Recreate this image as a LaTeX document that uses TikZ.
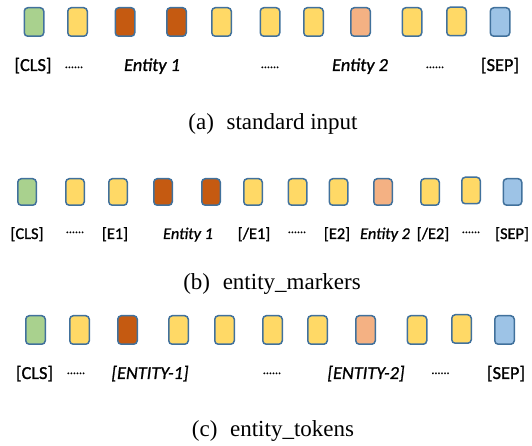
\documentclass[tikz,border=0pt]{standalone}
\usepackage{fontspec}
\setmainfont{Liberation Serif}
\newfontfamily\lblfont{Carlito}[FakeBold=1.2, ItalicFeatures={FakeBold=1.0}]
\definecolor{cG}{HTML}{A9D18E}
\definecolor{cY}{HTML}{FFD966}
\definecolor{cO}{HTML}{C55A11}
\definecolor{cL}{HTML}{F4B183}
\definecolor{cB}{HTML}{9DC3E6}
\definecolor{cEdge}{HTML}{41719C}
\begin{document}
\begin{tikzpicture}[x=1pt,y=1pt,
  tokbig/.style={draw=cEdge, line width=1.5pt, rounded corners=3.5pt, minimum width=19.5pt, minimum height=28.5pt, inner sep=0pt},
  toksmall/.style={draw=cEdge, line width=1.5pt, rounded corners=3.5pt, minimum width=18.5pt, minimum height=26.5pt, inner sep=0pt},
  lblA/.style={anchor=base, inner sep=0pt, font=\lblfont\fontsize{18.3}{20}\selectfont},
  lblB/.style={anchor=base, inner sep=0pt, font=\lblfont\fontsize{16.3}{18}\selectfont},
  dotsty/.style={anchor=base, inner sep=0pt, font=\lblfont\fontsize{12}{14}\selectfont},
  capsty/.style={anchor=base, inner sep=0pt, font=\fontsize{23}{26}\selectfont}]
\useasboundingbox (0,0) rectangle (532,446);

% ---------- (a) standard input ----------
\foreach \x/\yy/\c [count=\i] in {34/424/cG, 77.5/424/cY, 125/424/cO, 176.5/424/cO, 221.5/424/cY, 270/424/cY, 313.5/424/cY, 360.5/424/cL, 412/424/cY, 456.5/424.5/cY, 500/424/cB}
  \node[tokbig, fill=\c] (a\i) at (\x,\yy) {};
\node[lblA] (aCLS) at (33,375) {[CLS]};
\node[dotsty] (aD1) at (74,378) {......};
\node[lblA] (aE1) at (152,375) {\itshape Entity 1};
\node[dotsty] (aD2) at (270,378) {......};
\node[lblA] (aE2) at (360,375) {\itshape Entity 2};
\node[dotsty] (aD3) at (435,378) {......};
\node[lblA] (aSEP) at (500,375) {[SEP]};
\node[capsty] (capA) at (273,316) {(a)\hspace{0.55em}standard input};

% ---------- (b) entity_markers ----------
\foreach \x/\yy/\c [count=\i] in {27/254/cG, 75/254/cY, 118/254/cY, 163/254/cO, 211/254/cO, 253/254/cY, 297.5/254/cY, 338.5/254/cY, 383/254/cL, 430/254/cY, 471/255.5/cY, 512.5/254/cB}
  \node[toksmall, fill=\c] (b\i) at (\x,\yy) {};
\node[lblB] (bCLS) at (27,207) {[CLS]};
\node[dotsty] (bD1) at (75,213) {......};
\node[lblB] (bM1) at (115,207) {[E1]};
\node[lblB] (bE1) at (188,207) {\itshape Entity 1};
\node[lblB] (bM2) at (254,207) {[/E1]};
\node[dotsty] (bD2) at (297,213) {......};
\node[lblB] (bM3) at (337,207) {[E2]};
\node[lblB] (bE2) at (385,207) {\itshape Entity 2};
\node[lblB] (bM4) at (433,207) {[/E2]};
\node[dotsty] (bD3) at (471,213) {......};
\node[lblB] (bSEP) at (512,207) {[SEP]};
\node[capsty] (capB) at (272,156) {(b)\hspace{0.55em}entity\_markers};

% ---------- (c) entity_tokens ----------
\foreach \x/\yy/\c [count=\i] in {35.5/116/cG, 79.5/116/cY, 127.5/116/cO, 178.5/116/cY, 224.5/116/cY, 272.5/116/cY, 317.5/116/cY, 365.5/116/cL, 417/116/cY, 461.5/117/cY, 504.5/116/cB}
  \node[tokbig, fill=\c] (c\i) at (\x,\yy) {};
\node[lblA] (cCLS) at (34.5,67) {[CLS]};
\node[dotsty] (cD1) at (76,72) {......};
\node[lblA] (cE1) at (150,67) {\itshape [ENTITY-1]};
\node[dotsty] (cD2) at (272,72) {......};
\node[lblA] (cE2) at (366,67) {\itshape [ENTITY-2]};
\node[dotsty] (cD3) at (440.5,72) {......};
\node[lblA] (cSEP) at (506,67) {[SEP]};
\node[capsty] (capC) at (273,9) {(c)\hspace{0.55em}entity\_tokens};
\end{tikzpicture}
\end{document}
